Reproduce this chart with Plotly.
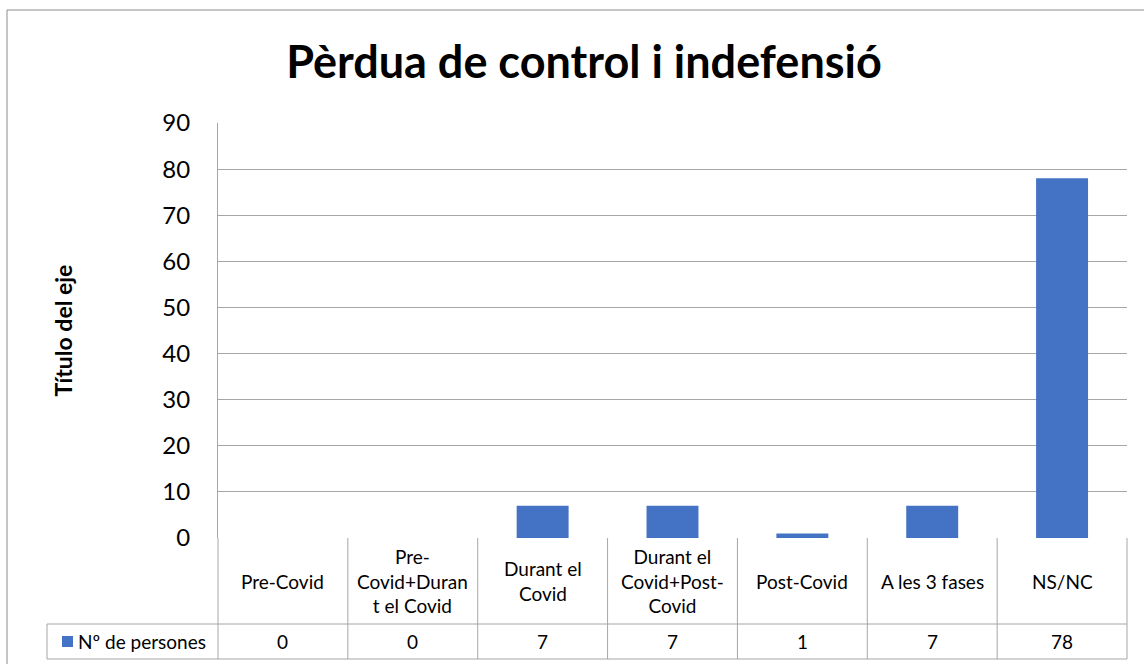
import plotly.graph_objects as go

categories = ["Pre-Covid", "Pre-Covid+Durant el Covid", "Durant el Covid",
              "Durant el Covid+Post-Covid", "Post-Covid", "A les 3 fases", "NS/NC"]
header_labels = ["Pre-Covid", "Pre-<br>Covid+Duran<br>t el Covid", "Durant el<br>Covid",
                 "Durant el<br>Covid+Post-<br>Covid", "Post-Covid", "A les 3 fases", "NS/NC"]
values = [0, 0, 7, 7, 1, 7, 78]
series_name = "Nº de persones"
title_text = "Pèrdua de control i indefensió"
y_title = "Título del eje"
y_ticks = list(range(0, 91, 10))

W, H = 1144, 664
L, R, T, B = 218, 1127, 123, 538
pw, ph = R - L, B - T
FONT = "Lato"
GRID = "#a6a6a6"
BLUE = "#4472C4"
TFS = 19

def px(xpix):
    return (xpix - L) / pw

def py(ypix):
    return (B - ypix) / ph

fig = go.Figure()
fig.add_trace(go.Bar(x=categories, y=values, name=series_name, showlegend=False,
                     marker=dict(color=BLUE, line=dict(width=0)), width=0.4))

n = len(categories)
shapes = []
line = dict(color=GRID, width=1)
for i in range(n + 1):
    xp = i / n
    shapes.append(dict(type="line", xref="paper", yref="paper", x0=xp, x1=xp,
                       y0=py(659), y1=0, line=line))
shapes.append(dict(type="line", xref="paper", yref="paper", x0=px(47), x1=1, y0=py(624), y1=py(624), line=line))
shapes.append(dict(type="line", xref="paper", yref="paper", x0=px(47), x1=1, y0=py(659), y1=py(659), line=line))
shapes.append(dict(type="line", xref="paper", yref="paper", x0=px(47), x1=px(47), y0=py(659), y1=py(624), line=line))
# legend key
shapes.append(dict(type="rect", xref="paper", yref="paper", x0=px(62), x1=px(73),
                   y0=py(647), y1=py(636), fillcolor=BLUE, line=dict(width=0)))
# outer chart border
shapes.append(dict(type="rect", xref="paper", yref="paper", x0=px(7), x1=px(1160),
                   y0=py(680), y1=py(10), line=dict(color="#8c8c8c", width=1)))

annotations = []
for c, lab, v in zip(categories, header_labels, values):
    annotations.append(dict(x=c, xref="x", y=py(581), yref="paper", text=lab,
                            showarrow=False, font=dict(family=FONT, size=TFS, color="#000"),
                            xanchor="center", yanchor="middle", align="center"))
    annotations.append(dict(x=c, xref="x", y=py(641.5), yref="paper", text=str(v),
                            showarrow=False, font=dict(family=FONT, size=TFS, color="#000"),
                            xanchor="center", yanchor="middle"))
annotations.append(dict(x=px(76), xref="paper", y=py(641.5), yref="paper", text=series_name,
                        showarrow=False, font=dict(family=FONT, size=TFS, color="#000"),
                        xanchor="left", yanchor="middle"))
annotations.append(dict(x=px(62), xref="paper", y=0.5, yref="paper", text="<b>" + y_title + "</b>",
                        textangle=-90, showarrow=False,
                        font=dict(family=FONT, size=23, color="#000"),
                        xanchor="center", yanchor="middle"))

fig.update_layout(
    width=W, height=H,
    margin=dict(l=L, r=W - R, t=T, b=H - B, autoexpand=False),
    paper_bgcolor="white", plot_bgcolor="white",
    title=dict(text="<b>" + title_text + "</b>", x=584 / W, xref="container", xanchor="center",
               y=1 - 62 / H, yref="container", yanchor="middle",
               font=dict(family=FONT, size=45, color="#000")),
    xaxis=dict(type="category", range=[-0.5, n - 0.5], showticklabels=False,
               showgrid=False, zeroline=False, showline=False, ticks=""),
    yaxis=dict(range=[0, 90], tickvals=y_ticks, showgrid=True, gridcolor=GRID, gridwidth=1,
               zeroline=False, showline=True, linecolor=GRID, linewidth=1, ticks="",
               ticklabelstandoff=22,
               tickfont=dict(family=FONT, size=24, color="#000")),
    shapes=shapes, annotations=annotations,
)
fig.write_html("out.html", config={"displayModeBar": False},
               post_script="document.body.style.margin='0';")
